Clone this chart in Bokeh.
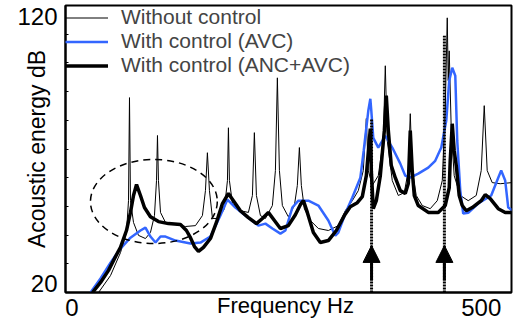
from bokeh.plotting import figure
from bokeh.models import FixedTicker, Legend, LegendItem, Arrow, NormalHead
from bokeh.embed import file_html
from bokeh.resources import INLINE

# ---- data (frequency in Hz, acoustic energy in dB) ----
wo_freq = [32.4, 47.0, 59.2, 66.5, 69.0, 70.2, 71.4, 75.1, 81.2, 89.7, 95.8, 100.7, 103.2, 104.4, 105.6,
           108.1, 114.2, 126.4, 138.6, 150.8, 159.3, 163.0, 165.4, 167.9, 171.6, 178.9, 186.2, 189.9,
           191.1, 192.3, 196.0, 205.7, 215.5, 220.4, 222.8, 225.3, 230.2, 236.3, 244.8, 248.5, 250.9,
           253.4, 257.0, 264.3, 271.7, 275.3, 277.8, 280.2, 283.9, 291.2, 301.0, 313.2, 325.4, 333.9,
           342.5, 349.8, 355.9, 359.6, 362.0, 366.9, 374.2, 380.3, 382.8, 385.2, 391.3, 398.7, 406.0,
           410.9, 413.3, 415.7, 420.6, 428.0, 437.7, 446.3, 452.4, 456.0, 458.5, 459.7, 460.9, 463.4,
           467.0, 474.4, 484.1, 493.9, 500.0, 503.7, 507.3, 513.4, 523.2, 537.8]
wo_db = [20.0, 25.9, 33.9, 40.9, 52.0, 87.9, 52.0, 44.4, 39.9, 38.8, 40.9, 46.8, 59.0, 74.7, 59.0,
         47.9, 44.4, 43.7, 43.0, 43.3, 46.8, 55.5, 68.7, 55.5, 45.8, 45.8, 49.2, 59.0,
         77.4, 59.0, 51.0, 48.5, 47.9, 53.8, 75.7, 53.8, 46.8, 45.8, 50.3, 62.5, 94.8,
         62.5, 50.3, 46.4, 50.3, 57.3, 70.5, 57.3, 49.2, 45.1, 42.3, 41.6, 43.3, 48.5,
         52.0, 55.5, 62.5, 80.6, 62.5, 57.3, 60.7, 72.9, 99.0, 72.9, 59.0, 53.8, 54.8,
         62.5, 82.3, 62.5, 53.8, 50.3, 49.2, 52.0, 59.0, 83.3, 115.7, 93.8, 104.2, 76.4,
         60.7, 53.8, 52.0, 53.8, 62.5, 85.1, 62.5, 58.3, 57.9, 58.3]

avc_freq = [22.6, 34.8, 47.0, 59.2, 71.4, 83.6, 89.7, 95.8, 102.0, 108.1, 114.2, 126.4, 144.7, 156.9,
            169.1, 181.3, 189.9, 199.6, 211.8, 227.7, 236.3, 244.8, 254.6, 260.7, 269.2, 276.6, 288.8,
            301.0, 313.2, 321.7, 325.4, 333.9, 342.5, 352.3, 356.4, 362.0, 364.5, 365.7, 368.1, 374.2,
            382.8, 391.3, 401.1, 407.2, 413.3, 423.1, 435.3, 443.8, 451.2, 457.3, 460.9, 464.6, 468.3,
            470.7, 474.4, 478.0, 484.1, 496.3, 512.2, 520.8, 524.4, 529.3, 533.0, 539.1]
avc_db = [20.0, 24.9, 30.4, 35.3, 39.1, 41.6, 42.6, 39.5, 37.4, 39.5, 39.5, 38.1, 37.1, 37.4,
          39.5, 46.8, 52.4, 49.6, 46.8, 43.3, 44.0, 42.3, 40.5, 41.6, 49.6, 52.0, 52.0,
          50.3, 45.1, 39.8, 40.9, 47.5, 53.1, 60.0, 69.4, 83.3, 87.5, 83.3, 73.9, 70.5,
          74.6, 70.5, 64.9, 60.7, 60.0, 61.4, 63.5, 65.9, 70.5, 79.9, 93.8, 98.3, 95.5,
          72.9, 55.5, 47.5, 47.8, 51.0, 53.8, 60.0, 62.5, 59.0, 49.6, 48.5]

anc_freq = [25.0, 34.8, 44.6, 53.1, 59.2, 66.5, 71.4, 75.1, 78.8, 83.6, 88.5, 95.8, 105.6, 117.8,
            132.5, 139.8, 144.7, 149.6, 154.5, 160.6, 169.1, 176.4, 183.8, 191.1, 197.2, 205.7, 215.5,
            225.3, 232.6, 239.9, 247.3, 254.6, 264.3, 272.9, 279.0, 282.7, 287.5, 294.9, 303.4, 313.2,
            323.0, 332.7, 340.0, 348.6, 354.7, 359.6, 363.2, 364.5, 365.7, 368.1, 371.8, 376.7, 381.6,
            384.0, 386.5, 390.1, 395.0, 401.1, 407.2, 410.9, 413.3, 415.7, 418.2, 423.1, 435.3, 447.5,
            456.0, 460.9, 462.1, 464.6, 467.0, 469.5, 473.1, 476.8, 481.7, 489.0, 500.0, 504.9, 511.0,
            520.8, 529.3, 539.1]
anc_db = [20.0, 23.5, 27.7, 32.5, 35.7, 41.6, 47.9, 53.8, 57.6, 53.8, 49.6, 46.4, 44.7, 44.0,
          43.7, 41.6, 39.1, 36.0, 34.3, 35.7, 38.8, 44.4, 51.0, 54.5, 52.0, 48.5, 46.1,
          44.0, 45.8, 47.9, 45.1, 42.3, 43.3, 47.1, 50.6, 52.0, 47.9, 40.9, 37.4, 38.1,
          41.6, 46.8, 49.9, 51.3, 53.4, 60.7, 72.9, 77.1, 62.5, 49.2, 52.0, 60.7, 76.4,
          88.6, 76.4, 64.2, 60.0, 55.5, 54.5, 58.0, 76.4, 62.5, 53.8, 50.3, 47.9, 47.9,
          50.3, 56.5, 65.9, 78.8, 69.4, 64.2, 53.8, 50.3, 48.5, 49.6, 52.0, 54.1, 52.7,
          49.2, 47.9, 47.9]

series_labels = ["Without control", "With control (AVC)", "With control (ANC+AVC)"]

# marked frequencies (dotted lines + arrows)
mark_freq = [366.0, 455.0]
mark_base_db = [20.0, 20.0]
mark_top_db = [80.6, 109.5]
arrow_tail_db = [24.2, 24.2]
arrow_tip_db = [36.4, 36.4]

# dashed ellipse around the low-frequency region
ell_x, ell_y, ell_w, ell_h = [100.0], [51.7], [155.0], [29.3]

# axis ticks: labels sit just inside the frame ends, as in the original
y_label_pos = [23, 116]
y_label_txt = {23: "20", 116: "120"}
y_minor = [30, 40, 50, 60, 70, 80, 90, 100, 110]
x_ticks = [0, 500]

FONT = "Liberation Sans"
BLUE = "#3366ff"

p = figure(width=520, height=335, x_range=(-8, 537), y_range=(20, 120),
           output_backend="svg", toolbar_location=None,
           min_border_left=65, min_border_right=9, min_border_top=5, min_border_bottom=43)
p.xgrid.visible = False
p.ygrid.visible = False
p.outline_line_color = "black"
p.outline_line_width = 2
p.background_fill_color = "white"
p.border_fill_color = "white"

ya = p.yaxis[0]
ya.ticker = FixedTicker(ticks=y_label_pos, minor_ticks=y_minor)
ya.major_tick_in = 0
ya.major_tick_out = 0
ya.minor_tick_in = 3
ya.minor_tick_out = 0
ya.axis_line_width = 2
ya.major_label_overrides = y_label_txt
ya.major_label_standoff = 8
ya.major_label_text_font = FONT
ya.major_label_text_font_size = "24px"
ya.major_label_text_color = "black"
ya.axis_label = "Acoustic energy dB"
ya.axis_label_text_font = FONT
ya.axis_label_text_font_size = "23px"
ya.axis_label_text_font_style = "normal"
ya.axis_label_text_color = "black"
ya.axis_label_standoff = -36

xa = p.xaxis[0]
xa.ticker = FixedTicker(ticks=x_ticks, minor_ticks=[])
xa.major_tick_in = 0
xa.major_tick_out = 0
xa.axis_line_width = 2
xa.major_label_standoff = 6
xa.major_label_text_font = FONT
xa.major_label_text_font_size = "24px"
xa.major_label_text_color = "black"
xa.axis_label = "Frequency  Hz"
xa.axis_label_text_font = FONT
xa.axis_label_text_font_size = "22px"
xa.axis_label_text_font_style = "normal"
xa.axis_label_text_color = "black"
xa.axis_label_standoff = -26

r_wo = p.line(wo_freq, wo_db, line_color="black", line_width=1)
r_avc = p.line(avc_freq, avc_db, line_color=BLUE, line_width=2.5)
r_anc = p.line(anc_freq, anc_db, line_color="black", line_width=3.5)

p.ellipse(x=ell_x, y=ell_y, width=ell_w, height=ell_h, fill_color=None,
          line_color="black", line_width=1.5, line_dash="7 5")

p.segment(x0=mark_freq, y0=mark_base_db, x1=mark_freq, y1=mark_top_db,
          line_color="black", line_width=3, line_dash="2 1")

for f, t0, t1 in zip(mark_freq, arrow_tail_db, arrow_tip_db):
    p.add_layout(Arrow(x_start=f, y_start=t0, x_end=f, y_end=t1, line_width=3,
                       line_color="black",
                       end=NormalHead(size=17, fill_color="black", line_color="black")))

legend = Legend(items=[LegendItem(label=series_labels[0], renderers=[r_wo]),
                       LegendItem(label=series_labels[1], renderers=[r_avc]),
                       LegendItem(label=series_labels[2], renderers=[r_anc])],
                location="top_left", border_line_color=None, background_fill_alpha=0,
                glyph_width=43, glyph_height=23, label_height=23, spacing=0,
                padding=2, margin=0, label_standoff=13,
                label_text_font=FONT, label_text_font_size="21px")
p.add_layout(legend)

open("out.html", "w").write(file_html(p, INLINE))
